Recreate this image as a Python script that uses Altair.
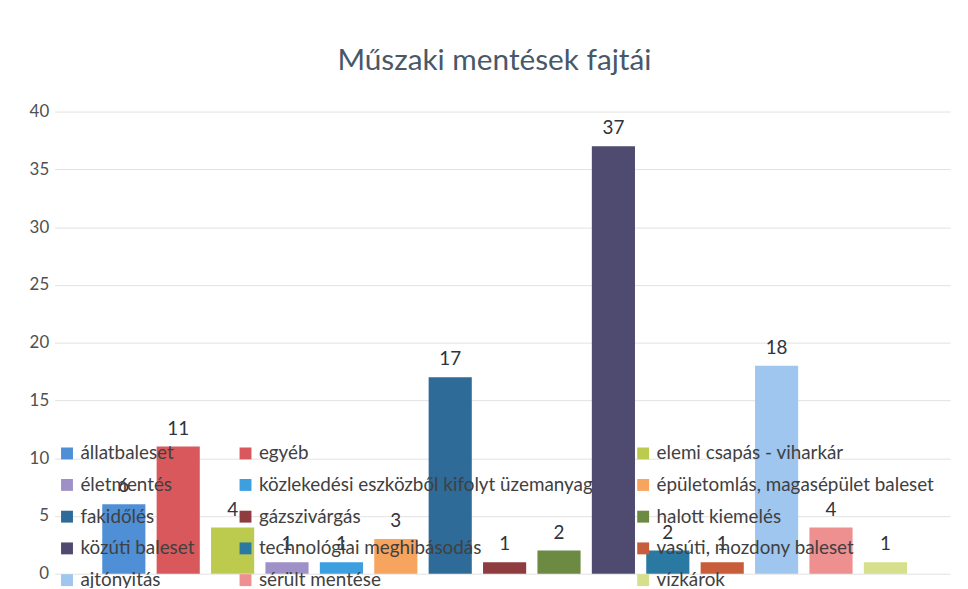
import altair as alt
import pandas as pd

categories = [
    "állatbaleset", "egyéb", "elemi csapás - viharkár",
    "életmentés", "közlekedési eszközből kifolyt üzemanyag", "épületomlás, magasépület baleset",
    "fakidőlés", "gázszivárgás", "halott kiemelés",
    "közúti baleset", "technológiai meghibásodás", "vasúti, mozdony baleset",
    "ajtónyitás", "sérült mentése", "vízkárok",
]
values = [6, 11, 4, 1, 1, 3, 17, 1, 2, 37, 2, 1, 18, 4, 1]
colors = [
    "#4f8fd6", "#d9585c", "#bccb4e",
    "#a090c8", "#3c9fe0", "#f7a45e",
    "#2e6b99", "#8e3c40", "#6d8a42",
    "#4f4a6f", "#2a79a3", "#c75d3a",
    "#9fc6ef", "#ee8f90", "#d6df8c",
]
y_ticks = [0, 5, 10, 15, 20, 25, 30, 35, 40]

df = pd.DataFrame({"kategoria": categories, "ertek": values})

# legend is filled column by column in Vega; reorder so rows read like the original
n_cols = 3
legend_order = [categories[r * n_cols + c] for c in range(n_cols) for r in range(len(categories) // n_cols)]
legend_colors = [colors[categories.index(k)] for k in legend_order]

FONT = "Lato"

x = alt.X("kategoria:N", sort=categories, axis=None,
          scale=alt.Scale(paddingInner=0.207, paddingOuter=0.834, align=0.525))
y = alt.Y("ertek:Q", scale=alt.Scale(domain=[0, 40], nice=False),
          axis=alt.Axis(values=y_ticks, title=None, domain=False, ticks=False,
                        labelFont=FONT, labelFontSize=17, labelColor="#505050",
                        labelPadding=6, grid=True, gridColor="#e2e2e2", gridWidth=1))

bars = alt.Chart(df).mark_bar().encode(
    x=x,
    y=y,
    color=alt.Color("kategoria:N",
                    scale=alt.Scale(domain=legend_order, range=legend_colors),
                    legend=alt.Legend(title=None, orient="none", legendX=3, legendY=335,
                                      columns=3, columnPadding=41, rowPadding=12,
                                      symbolType="square", symbolSize=144, symbolStrokeWidth=0,
                                      symbolOpacity=1,
                                      labelFont=FONT, labelFontSize=19, labelColor="#404040",
                                      labelOffset=4, labelLimit=500, padding=0)),
)

labels = alt.Chart(df).mark_text(font=FONT, fontSize=19, color="#2e3340",
                                 baseline="middle", dy=-18).encode(
    x=alt.X("kategoria:N", sort=categories),
    y="ertek:Q",
    text="ertek:Q",
)

chart = alt.layer(bars, labels).properties(
    width=903,
    height=466,
    background="white",
    title=alt.TitleParams("Műszaki mentések fajtái", font=FONT, fontSize=30,
                          fontWeight="normal", color="#485868", anchor="middle",
                          offset=27, dx=-8),
    autosize=alt.AutoSizeParams(type="none"),
    padding={"left": 47, "top": 102, "right": 10, "bottom": 12},
).configure_view(stroke=None)

chart.save("out.html", embed_options={"renderer": "svg", "actions": False})
